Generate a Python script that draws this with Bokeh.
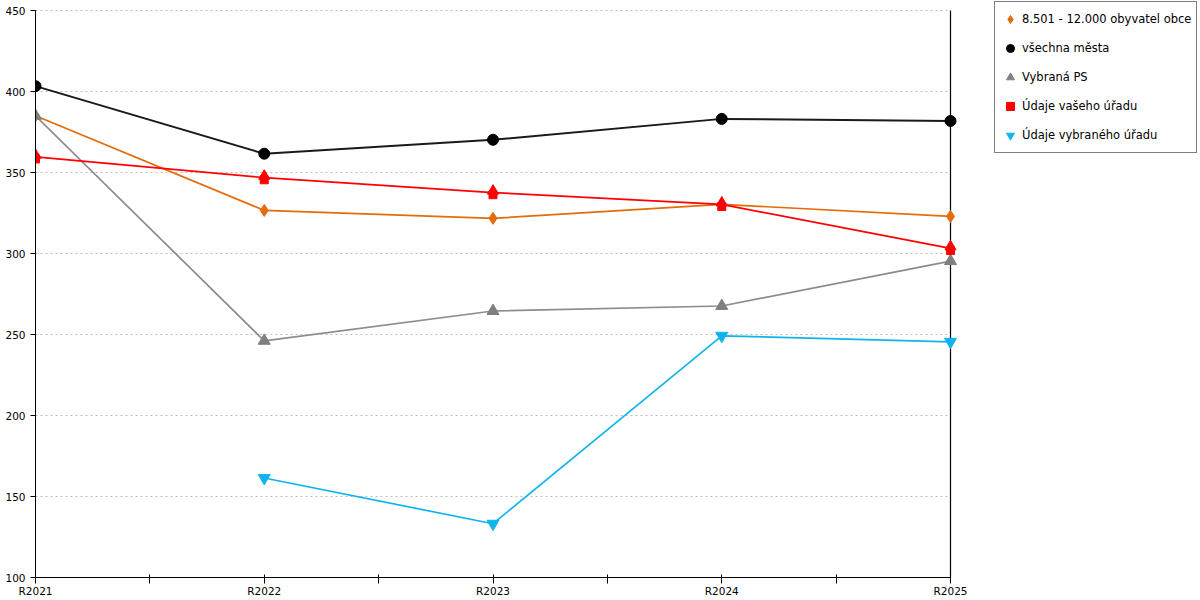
import math
from bokeh.plotting import figure
from bokeh.models import Range1d, FixedTicker, Legend, LegendItem, ColumnDataSource
from bokeh.transform import dodge
from bokeh.embed import file_html
from bokeh.resources import INLINE

# ---- data ----
categories = ["R2021", "R2022", "R2023", "R2024", "R2025"]
y_ticks = [100, 150, 200, 250, 300, 350, 400, 450]
obyvatel_obce = [385.0, 326.6, 321.7, 330.3, 322.9]
vsechna_mesta = [403.3, 361.6, 370.2, 383.1, 381.8]
vybrana_ps = [385.0, 246.1, 264.5, 267.6, 295.3]
vaseho_uradu = [359.7, 346.8, 337.6, 330.3, 303.2]
vybraneho_uradu = [math.nan, 161.4, 133.2, 249.2, 245.5]

series_names = ["8.501 - 12.000 obyvatel obce", "všechna města", "Vybraná PS",
                "Údaje vašeho úřadu", "Údaje vybraného úřadu"]

xs = list(range(len(categories)))
src = ColumnDataSource(dict(x=xs, a=obyvatel_obce, b=vsechna_mesta, c=vybrana_ps,
                            d=vaseho_uradu, e=vybraneho_uradu))

FONT = "DejaVu Sans"

# layout: plot area 915x567 px; frame extended right (legend) and up (legend top)
PLOT_W, EXTRA_W = 915, 250
PLOT_H, EXTRA_H = 567, 10
x_end = xs[-1] + (xs[-1] - xs[0]) * EXTRA_W / PLOT_W
y_end = y_ticks[-1] + (y_ticks[-1] - y_ticks[0]) * EXTRA_H / PLOT_H

p = figure(width=1200, height=600, output_backend="svg", toolbar_location=None,
           x_range=Range1d(xs[0], x_end), y_range=Range1d(y_ticks[0], y_end),
           min_border_left=35, min_border_right=0, min_border_top=0, min_border_bottom=23)
p.outline_line_color = None
p.background_fill_color = "white"

# grid (drawn only across the category span)
p.xgrid.grid_line_color = None
p.ygrid.grid_line_color = None
p.segment(x0=[xs[0]] * len(y_ticks), x1=[xs[-1]] * len(y_ticks), y0=y_ticks, y1=y_ticks,
          line_color="#bdbdbd", line_dash="2 3", line_width=1)
# right border line of the plot area
p.segment(x0=[xs[-1]], x1=[xs[-1]], y0=[y_ticks[0]], y1=[y_ticks[-1]],
          line_color="black", line_width=1.2)

# axes
xa = p.xaxis[0]
xa.bounds = (xs[0], xs[-1])
xa.ticker = FixedTicker(ticks=xs, minor_ticks=[x + 0.5 for x in xs[:-1]])
xa.major_label_overrides = {x: c for x, c in zip(xs, categories)}
xa.axis_line_color = "black"
xa.major_tick_line_color = "black"
xa.minor_tick_line_color = "black"
xa.major_tick_in = 3
xa.major_tick_out = 6
xa.minor_tick_in = 3
xa.minor_tick_out = 6
xa.major_label_standoff = 1
xa.major_label_text_font = FONT
xa.major_label_text_font_size = "10.5px"
xa.major_label_text_color = "black"

ya = p.yaxis[0]
ya.bounds = (y_ticks[0], y_ticks[-1])
ya.ticker = FixedTicker(ticks=y_ticks)
ya.axis_line_color = "black"
ya.major_tick_line_color = "black"
ya.minor_tick_line_color = None
ya.major_tick_in = 0
ya.major_tick_out = 5
ya.major_label_standoff = 5
ya.major_label_text_font = FONT
ya.major_label_text_font_size = "10.5px"
ya.major_label_text_color = "black"

LW = 1.7
# lines
p.line("x", "a", source=src, line_color="#E46C0A", line_width=LW)
p.line("x", "b", source=src, line_color="#1a1a1a", line_width=LW + 0.3)
p.line("x", "c", source=src, line_color="#8c8c8c", line_width=LW)
p.line("x", "d", source=src, line_color="#FF0000", line_width=LW)
p.line("x", "e", source=src, line_color="#10B4EC", line_width=LW)

# markers
r_a = p.scatter("x", "a", source=src, marker="diamond", size=12, color="#E46C0A")
r_b = p.scatter("x", "b", source=src, marker="circle", size=11, color="black")
r_c = p.scatter("x", "c", source=src, marker="triangle", size=12, color="#7f7f7f")
r_d1 = p.scatter("x", dodge("d", -1.3, range=p.y_range), source=src, marker="square", size=8, color="#FF0000")
r_d2 = p.scatter("x", dodge("d", 1.0, range=p.y_range), source=src, marker="triangle", size=11, color="#FF0000")
r_e = p.scatter("x", "e", source=src, marker="inverted_triangle", size=12, color="#10B4EC")

legend = Legend(items=[
    LegendItem(label=series_names[0], renderers=[r_a]),
    LegendItem(label=series_names[1], renderers=[r_b]),
    LegendItem(label=series_names[2], renderers=[r_c]),
    LegendItem(label=series_names[3], renderers=[r_d1, r_d2]),
    LegendItem(label=series_names[4], renderers=[r_e]),
], location=(959, 424), orientation="vertical")
legend.border_line_color = "black"
legend.border_line_width = 1
legend.background_fill_color = "white"
legend.background_fill_alpha = 1
legend.label_text_font = FONT
legend.label_text_font_size = "11.5px"
legend.label_text_color = "black"
legend.glyph_width = 20
legend.glyph_height = 24
legend.label_height = 20
legend.label_standoff = 2
legend.spacing = 5
legend.padding = 5
legend.margin = 0
p.add_layout(legend, "center")

open("out.html", "w").write(file_html(p, INLINE))
